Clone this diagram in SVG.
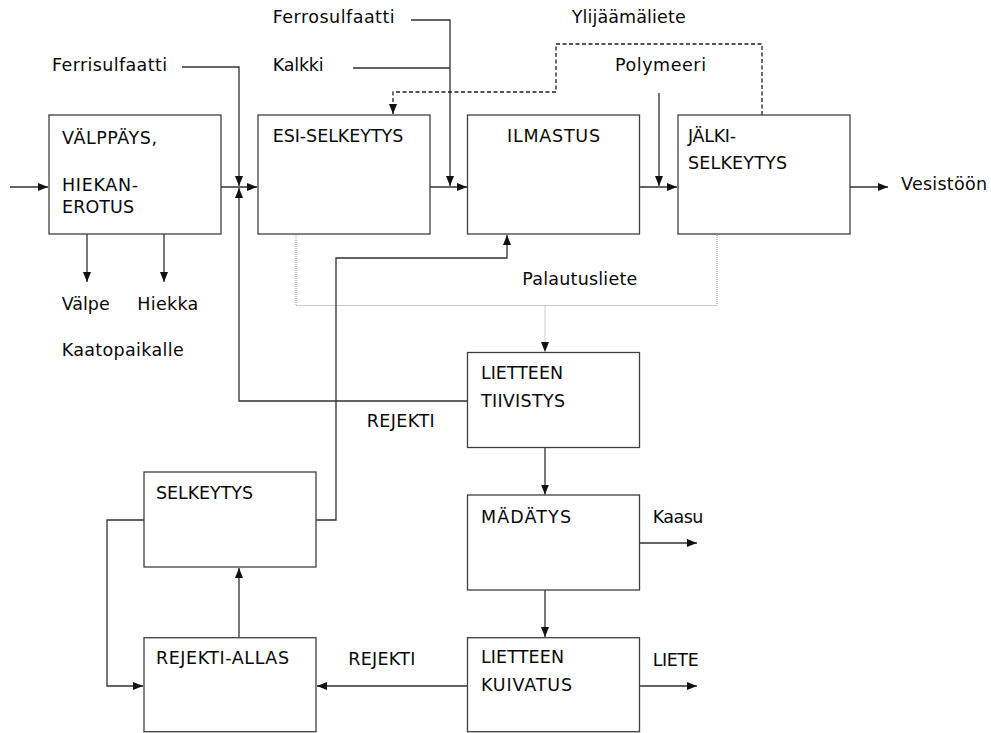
<svg xmlns="http://www.w3.org/2000/svg" width="991" height="733" viewBox="0 0 991 733">
<style>
  .box { fill: #ffffff; stroke: #404040; stroke-width: 1.3; }
  .ln { fill: none; stroke: #303030; stroke-width: 1.3; }
  .dash { fill: none; stroke: #202020; stroke-width: 1.3; stroke-dasharray: 4 2.5; }
  .dot { fill: none; stroke: #9a9a9a; stroke-width: 1; stroke-dasharray: 1 1; }
  text { font-family: "DejaVu Sans", "Liberation Sans", sans-serif; font-size: 17.5px; fill: #0a0a0a; }
</style>
<defs>
  <marker id="ah" markerUnits="userSpaceOnUse" markerWidth="11" markerHeight="9" refX="10" refY="4" orient="auto">
    <path d="M0,0 L10,4 L0,8 z" fill="#111"/>
  </marker>
</defs>
<rect width="991" height="733" fill="#ffffff"/>

<g id="connectors">
  <path class="ln" d="M10,187 H48" marker-end="url(#ah)"/>
  <path class="ln" d="M221,187 H257" marker-end="url(#ah)"/>
  <path class="ln" d="M182,67 H239 V186" marker-end="url(#ah)"/>
  <path class="ln" d="M467,401 H239 V188" marker-end="url(#ah)"/>
  <path class="ln" d="M411,20 H450 V186" marker-end="url(#ah)"/>
  <path class="ln" d="M353,68 H450"/>
  <path class="ln" d="M430,187 H467" marker-end="url(#ah)"/>
  <path class="ln" d="M659,93 V186" marker-end="url(#ah)"/>
  <path class="ln" d="M639,187 H677" marker-end="url(#ah)"/>
  <path class="ln" d="M850,187 H888" marker-end="url(#ah)"/>
  <path class="dash" d="M762,115 V44 H556 V92 H393 V114" marker-end="url(#ah)"/>
  <path class="dot" d="M296,234 V305.5 H717 V234"/>
  <path class="dot" d="M545,305.5 V352" marker-end="url(#ah)"/>
  <path class="ln" d="M87,234 V282" marker-end="url(#ah)"/>
  <path class="ln" d="M164,234 V282" marker-end="url(#ah)"/>
  <path class="ln" d="M545,448 V494.5" marker-end="url(#ah)"/>
  <path class="ln" d="M545,590 V637" marker-end="url(#ah)"/>
  <path class="ln" d="M639,543 H697" marker-end="url(#ah)"/>
  <path class="ln" d="M639,686 H697" marker-end="url(#ah)"/>
  <path class="ln" d="M467,686 H317" marker-end="url(#ah)"/>
  <path class="ln" d="M239,638 V568" marker-end="url(#ah)"/>
  <path class="ln" d="M144,520 H107 V686 H143" marker-end="url(#ah)"/>
  <path class="ln" d="M316,520 H336 V258 H507 V235" marker-end="url(#ah)"/>
</g>

<g id="labels">
  <text x="52" y="70.7" textLength="115">Ferrisulfaatti</text>
  <text x="272.7" y="23.3" textLength="122">Ferrosulfaatti</text>
  <text x="272.7" y="70.7" textLength="51">Kalkki</text>
  <text x="571.7" y="23.3" textLength="114">Ylijäämäliete</text>
  <text x="615" y="70.7" textLength="91">Polymeeri</text>
  <text x="901" y="190" textLength="86">Vesistöön</text>
  <text x="522.3" y="285" textLength="115">Palautusliete</text>
  <text x="366.7" y="427.3" textLength="68">REJEKTI</text>
  <text x="348.3" y="665" textLength="67">REJEKTI</text>
  <text x="652.7" y="523.3" textLength="50.7">Kaasu</text>
  <text x="652.7" y="666" textLength="46">LIETE</text>
  <text x="61.7" y="310" textLength="48">Välpe</text>
  <text x="137.3" y="310" textLength="61">Hiekka</text>
  <text x="61.7" y="356" textLength="122">Kaatopaikalle</text>
</g>

<g id="valppays">
  <rect class="box" x="49" y="115" width="172" height="119"/>
  <text x="62" y="144.3" textLength="95">VÄLPPÄYS,</text>
  <text x="62" y="191" textLength="76">HIEKAN-</text>
  <text x="62" y="213" textLength="72">EROTUS</text>
</g>
<g id="esiselkeytys">
  <rect class="box" x="258" y="115" width="172" height="119"/>
  <text x="272.7" y="141.7" textLength="130.6">ESI-SELKEYTYS</text>
</g>
<g id="ilmastus">
  <rect class="box" x="467.5" y="115" width="172" height="119"/>
  <text x="507" y="141.7" textLength="93">ILMASTUS</text>
</g>
<g id="jalkiselkeytys">
  <rect class="box" x="678" y="115" width="172" height="119"/>
  <text x="688" y="141.7" textLength="48">JÄLKI-</text>
  <text x="688" y="169.3" textLength="99">SELKEYTYS</text>
</g>
<g id="tiivistys">
  <rect class="box" x="467.5" y="352.5" width="172" height="95"/>
  <text x="481" y="379.3" textLength="82">LIETTEEN</text>
  <text x="481" y="407" textLength="84">TIIVISTYS</text>
</g>
<g id="madatys">
  <rect class="box" x="467.5" y="495" width="172" height="95"/>
  <text x="481" y="522.7" textLength="90">MÄDÄTYS</text>
</g>
<g id="kuivatus">
  <rect class="box" x="467.5" y="637.7" width="172" height="94"/>
  <text x="481" y="663.3" textLength="83">LIETTEEN</text>
  <text x="481" y="691" textLength="91">KUIVATUS</text>
</g>
<g id="selkeytys">
  <rect class="box" x="144" y="472" width="172" height="95"/>
  <text x="156" y="499.3" textLength="97">SELKEYTYS</text>
</g>
<g id="rejektiallas">
  <rect class="box" x="144" y="637.7" width="172" height="94"/>
  <text x="156" y="664" textLength="133">REJEKTI-ALLAS</text>
</g>
</svg>
